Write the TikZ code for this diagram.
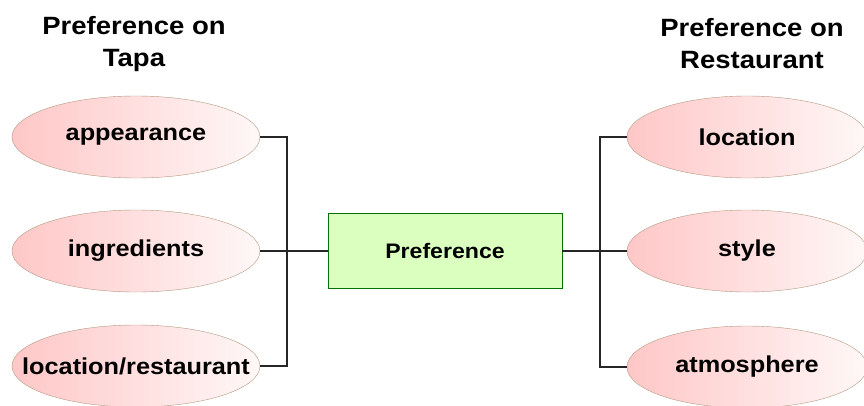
\documentclass[tikz,border=0pt]{standalone}
\usepackage{fontspec}
\setmainfont{Liberation Sans}[FakeStretch=1.1]
\usetikzlibrary{shapes.geometric}

\begin{document}
\begin{tikzpicture}[x=1pt, y=-1pt,
    wish/.style = {shape=ellipse, draw=brown!50!gray!80, inner xsep=-45pt, inner ysep=0pt,
      minimum width=248pt, minimum height=82pt,
      left color=red!22, right color=red!3,
      font=\bfseries\fontsize{23}{26}\selectfont},
    pick/.style = {shape=rectangle, draw=green!45!black, fill=green!45!lime!25!white,
      minimum width=234pt, minimum height=75pt, inner sep=0pt,
      font=\bfseries\fontsize{21}{25}\selectfont},
    head/.style = {align=center, font=\bfseries\fontsize{25}{32}\selectfont},
    link/.style = {draw=black!85, line width=1.2pt}]
    \useasboundingbox (0,0) rectangle (864,405);

    \node[head] (tapa) at (134,44) {Preference on\\Tapa};
    \node[head] (rest) at (752,44) {Preference on\\Restaurant};

    \node[wish] (look) at (136,137) {appearance};
    \node[wish] (ingr) at (136,251) {ingredients};
    \node[wish] (spot) at (136,366) {location/restaurant};

    \node[wish, minimum width=240pt] (lctn) at (747,137) {location};
    \node[wish, minimum width=240pt] (styl) at (747,251) {style};
    \node[wish, minimum width=240pt] (mood) at (747,367) {atmosphere};

    \node[pick] (pref) at (445,251) {Preference};

    \coordinate (lbar) at (287,0);
    \coordinate (rbar) at (600,0);

    \draw[link] (look.east) -- (look.east -| lbar) -- (spot.east -| lbar) -- (spot.east);
    \draw[link] (ingr.east) -- (pref.west);
    \draw[link] (lctn.west) -- (lctn.west -| rbar) -- (mood.west -| rbar) -- (mood.west);
    \draw[link] (pref.east) -- (styl.west);
  \end{tikzpicture}
\end{document}
